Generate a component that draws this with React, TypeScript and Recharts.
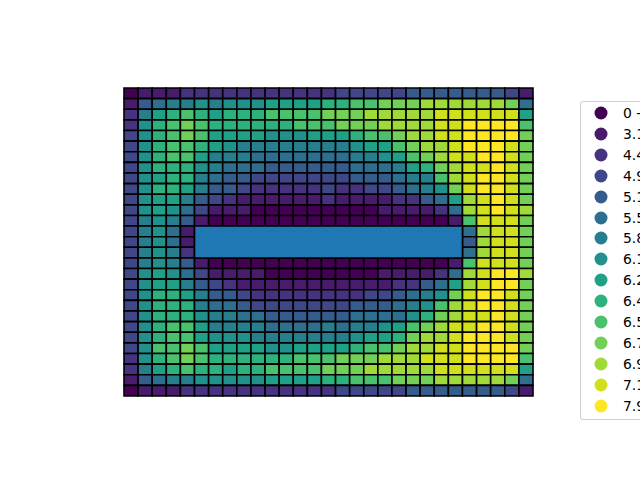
import React from "react";
import { ScatterChart, Scatter, XAxis, YAxis, ReferenceArea } from "recharts";

// head classes (index into CLASS_LABELS), -1 = inactive cell
const _ = -1;
const HEAD_CLASS: number[][] = [
  [0, 1, 1, 1, 2, 2, 2, 2, 2, 2, 2, 2, 2, 2, 2, 3, 3, 3, 3, 3, 4, 4, 4, 4, 4, 4, 4, 3, 1],
  [1, 4, 5, 6, 6, 7, 6, 7, 7, 7, 8, 8, 8, 8, 9, 9, 10, 10, 11, 11, 11, 12, 12, 12, 12, 12, 12, 11, 5],
  [2, 6, 8, 9, 10, 9, 8, 9, 9, 9, 10, 10, 10, 10, 11, 11, 11, 12, 12, 12, 12, 12, 13, 13, 13, 13, 13, 13, 8],
  [2, 7, 9, 10, 11, 10, 9, 9, 9, 9, 9, 9, 10, 10, 10, 11, 11, 11, 12, 12, 12, 12, 13, 13, 14, 14, 14, 14, 10],
  [3, 7, 9, 10, 11, 10, 8, 8, 8, 8, 7, 7, 7, 8, 8, 8, 9, 10, 10, 11, 12, 12, 13, 13, 14, 14, 14, 14, 11],
  [3, 7, 9, 10, 10, 9, 8, 7, 6, 6, 6, 6, 6, 6, 6, 6, 7, 8, 8, 10, 11, 12, 12, 13, 14, 14, 14, 13, 11],
  [3, 7, 9, 10, 10, 8, 6, 6, 6, 5, 5, 5, 5, 5, 5, 5, 6, 6, 7, 8, 10, 11, 12, 13, 13, 14, 14, 13, 11],
  [3, 7, 9, 9, 9, 7, 6, 5, 5, 5, 4, 4, 4, 4, 4, 4, 5, 5, 5, 6, 8, 9, 11, 12, 13, 13, 14, 13, 11],
  [3, 7, 8, 9, 9, 6, 5, 4, 4, 3, 3, 3, 3, 3, 3, 3, 4, 4, 4, 5, 6, 6, 10, 12, 13, 14, 14, 13, 11],
  [3, 7, 9, 9, 8, 6, 4, 4, 3, 2, 2, 2, 2, 2, 3, 2, 2, 3, 3, 4, 5, 6, 7, 11, 13, 14, 14, 13, 11],
  [3, 7, 8, 8, 6, 4, 3, 2, 1, 1, 1, 1, 1, 1, 2, 1, 1, 1, 1, 2, 2, 4, 5, 8, 12, 13, 14, 13, 11],
  [3, 7, 8, 7, 5, 3, 1, 1, 1, 0, 0, 0, 0, 0, 0, 0, 0, 0, 1, 1, 1, 1, 2, 5, 12, 13, 14, 13, 12],
  [3, 6, 7, 6, 4, 1, 0, 0, 0, 0, 0, 0, 0, 0, 0, 0, 0, 0, 0, 0, 0, 0, 0, 1, 10, 13, 13, 13, 11],
  [3, 6, 7, 5, 1, _, _, _, _, _, _, _, _, _, _, _, _, _, _, _, _, _, _, _, 5, 12, 13, 13, 11],
  [3, 6, 7, 5, 1, _, _, _, _, _, _, _, _, _, _, _, _, _, _, _, _, _, _, _, 4, 12, 13, 13, 11],
  [3, 6, 7, 6, 2, _, _, _, _, _, _, _, _, _, _, _, _, _, _, _, _, _, _, _, 5, 12, 13, 13, 11],
  [3, 6, 7, 6, 4, 1, 0, 0, 0, 0, 0, 0, 0, 0, 0, 0, 0, 0, 0, 0, 0, 0, 0, 1, 10, 13, 13, 13, 11],
  [3, 7, 8, 7, 5, 3, 1, 1, 1, 1, 0, 0, 0, 0, 0, 0, 0, 0, 1, 1, 1, 1, 2, 5, 12, 13, 14, 14, 12],
  [3, 7, 8, 8, 6, 4, 3, 2, 1, 1, 1, 1, 1, 1, 1, 1, 1, 1, 1, 2, 2, 4, 5, 8, 12, 13, 14, 14, 11],
  [3, 7, 9, 9, 8, 6, 4, 4, 3, 2, 2, 2, 2, 2, 2, 2, 2, 3, 3, 4, 5, 6, 7, 11, 13, 14, 14, 13, 11],
  [3, 7, 9, 9, 9, 6, 5, 5, 4, 3, 3, 3, 3, 3, 3, 3, 4, 4, 4, 5, 6, 7, 10, 12, 13, 14, 14, 13, 11],
  [3, 7, 9, 9, 9, 7, 6, 6, 5, 5, 4, 4, 4, 4, 4, 4, 5, 5, 5, 5, 7, 9, 11, 12, 13, 13, 14, 13, 11],
  [3, 7, 9, 10, 10, 8, 6, 6, 6, 6, 5, 5, 5, 5, 6, 5, 6, 6, 7, 8, 10, 11, 12, 13, 13, 14, 14, 13, 11],
  [3, 7, 9, 10, 10, 8, 7, 7, 7, 6, 6, 6, 6, 6, 6, 6, 7, 8, 8, 9, 11, 12, 12, 13, 14, 14, 14, 13, 11],
  [3, 7, 10, 10, 11, 10, 8, 8, 8, 8, 7, 7, 8, 8, 8, 8, 9, 10, 10, 11, 12, 12, 13, 13, 14, 14, 14, 14, 11],
  [2, 7, 9, 10, 11, 10, 9, 9, 9, 9, 9, 9, 10, 10, 10, 11, 11, 11, 12, 12, 12, 13, 13, 13, 14, 14, 14, 14, 10],
  [2, 6, 8, 9, 10, 9, 9, 8, 9, 9, 10, 10, 10, 10, 11, 11, 11, 12, 12, 12, 12, 12, 13, 13, 13, 13, 13, 13, 8],
  [1, 4, 5, 6, 6, 7, 7, 7, 7, 7, 8, 8, 8, 8, 9, 9, 10, 10, 10, 11, 11, 11, 12, 12, 12, 12, 12, 11, 5],
  [0, 1, 1, 1, 2, 2, 2, 2, 2, 2, 2, 2, 2, 2, 2, 3, 3, 3, 3, 3, 4, 4, 4, 4, 4, 4, 4, 3, 1],
];

const CLASS_LABELS = [
  "0 - 3.1", "3.1 - 4.4", "4.4 - 4.9", "4.9 - 5.1", "5.1 - 5.5",
  "5.5 - 5.8", "5.8 - 6.1", "6.1 - 6.2", "6.2 - 6.4", "6.4 - 6.5",
  "6.5 - 6.7", "6.7 - 6.9", "6.9 - 7.1", "7.1 - 7.9", "7.9 - 10",
];

const COLORS = [
  "#440154", "#481b6d", "#46327e", "#3f4788", "#365c8d",
  "#2e6e8e", "#277f8e", "#21918c", "#1fa187", "#2db27d",
  "#4ac16d", "#73d056", "#a0da39", "#d0e11c", "#fde725",
];
const INACTIVE_COLOR = "#1f77b4";

const NROW = HEAD_CLASS.length;
const NCOL = HEAD_CLASS[0].length;

const cells = HEAD_CLASS.flatMap((row, r) =>
  row.map((k, c) => ({ row: r, col: c, k, x: c + 0.5, y: r + 0.5 }))
);
const active = cells.filter((d) => d.k >= 0);
const inactive = cells.filter((d) => d.k < 0);
const inactiveBox = {
  c0: Math.min(...inactive.map((d) => d.col)),
  c1: Math.max(...inactive.map((d) => d.col)) + 1,
  r0: Math.min(...inactive.map((d) => d.row)),
  r1: Math.max(...inactive.map((d) => d.row)) + 1,
};

const font = "'DejaVu Sans', sans-serif";

const App = () => {
  return (
    <div
      style={{
        position: "absolute",
        left: 0,
        top: 0,
        width: 640,
        height: 480,
        overflow: "hidden",
        background: "#fff",
      }}
    >
      <ScatterChart
        width={640}
        height={480}
        margin={{ top: 88, right: 107, bottom: 84, left: 124 }}
      >
        <XAxis type="number" dataKey="x" domain={[0, NCOL]} hide />
        <YAxis type="number" dataKey="y" domain={[0, NROW]} reversed hide />
        <Scatter data={active} isAnimationActive={false} shape={() => null} />
        {active.map((d) => (
          <ReferenceArea
            key={`${d.row}-${d.col}`}
            x1={d.col}
            x2={d.col + 1}
            y1={d.row}
            y2={d.row + 1}
            fill={COLORS[d.k]}
            fillOpacity={1}
            stroke="#000"
            strokeWidth={1.6}
          />
        ))}
        <ReferenceArea
          x1={inactiveBox.c0}
          x2={inactiveBox.c1}
          y1={inactiveBox.r0}
          y2={inactiveBox.r1}
          fill={INACTIVE_COLOR}
          fillOpacity={1}
          stroke="#000"
          strokeWidth={1.6}
        />
      </ScatterChart>
      <div
        style={{
          position: "absolute",
          left: 580,
          top: 101,
          width: 120,
          height: 317,
          border: "1px solid #d0d0d0",
          borderRadius: 3,
          background: "#fff",
          fontFamily: font,
          fontSize: 13.9,
          color: "#000",
        }}
      >
        {CLASS_LABELS.map((label, i) => (
          <div
            key={label}
            style={{
              position: "absolute",
              left: 0,
              top: 1 + i * 20.9,
              height: 20,
              display: "flex",
              alignItems: "center",
              whiteSpace: "nowrap",
            }}
          >
            <svg width={42} height={20}>
              <circle cx={20} cy={10} r={6.5} fill={COLORS[i]} />
            </svg>
            <span>{label}</span>
          </div>
        ))}
      </div>
    </div>
  );
};

export default App;
